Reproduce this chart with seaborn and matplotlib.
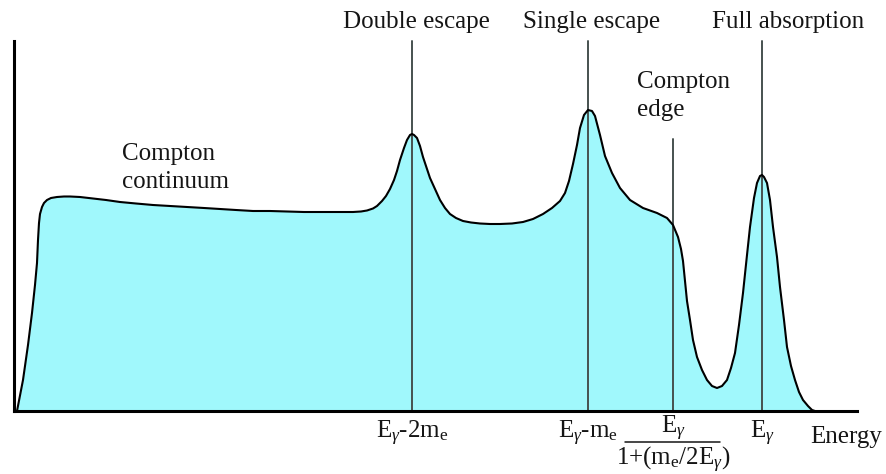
import matplotlib
matplotlib.use("Agg")
import matplotlib.pyplot as plt
from matplotlib.lines import Line2D
import seaborn as sns
import pandas as pd

# Schematic gamma-ray pulse-height spectrum (arbitrary units), in pieces
continuum_e = [3, 9, 14, 18, 21, 23, 24, 25, 26, 28,
               30, 33, 37, 43, 50, 56, 66, 79, 92, 106,
               122, 139, 156, 173, 190, 206, 222, 239, 256, 273,
               290, 306, 322, 339, 347]
continuum_c = [0, 31, 66, 98, 126, 148, 171, 188, 197, 204,
               208, 211, 213, 214, 214.5, 214.5, 214, 212.5, 211, 209,
               207.5, 206, 205, 204, 203, 202, 201, 200, 200, 199.5,
               199, 199, 199, 199, 199.5]

double_e = [353, 359, 363, 368, 372, 376, 380, 383, 386, 390,
            393, 396, 398, 400, 403, 406, 409, 412, 416, 421,
            426, 431, 436, 442, 449, 457, 466, 476, 486, 498,
            509, 519]
double_c = [200.5, 202.5, 205, 210, 215, 222, 231, 240, 251, 263,
            271, 276, 277, 276, 273, 265, 254, 245, 233, 222,
            211, 203, 197, 193, 190, 188.5, 187.5, 187, 187, 187.5,
            189, 192]

single_e = [529, 538, 546, 551, 555, 559, 563, 566, 570, 574,
            578, 581, 586, 591, 598, 606, 616, 629, 643, 653]
single_c = [197, 203, 210, 218, 230, 247, 266, 283, 296, 301,
            300, 295, 276, 255, 238, 223, 211, 203, 198, 193]

edge_e = [659, 664, 667, 669, 671, 673, 676, 679, 683, 688,
          693, 698, 703, 708, 713]
edge_c = [186, 174, 162, 150, 130, 110, 91, 71, 54, 41,
          31, 25, 23, 25, 31]

photo_e = [717, 721, 725, 729, 733, 736, 740, 743, 746, 748,
           750, 753, 756, 759, 763, 766, 770, 773, 777, 781,
           785, 789, 794, 798, 801]
photo_c = [43, 58, 86, 118, 156, 184, 213, 228, 235, 236,
           234, 228, 211, 184, 154, 124, 91, 64, 45, 31,
           19, 11, 5, 1, 0]

# Marked energies and their labels
marker_energy = [398, 574, 659, 748]
marker_top = [370, 370, 272, 370]
tick_labels = [r"E$_\gamma$-2m$_\mathrm{e}$", r"E$_\gamma$-m$_\mathrm{e}$", None, r"E$_\gamma$"]
peak_names = ["Double escape", "Single escape", None, "Full absorption"]

spectrum = pd.DataFrame({
    "energy": continuum_e + double_e + single_e + edge_e + photo_e,
    "counts": continuum_c + double_c + single_c + edge_c + photo_c,
})

sns.set_theme(style="white")
plt.rcParams["font.family"] = ["Liberation Serif", "DejaVu Serif"]
plt.rcParams["mathtext.fontset"] = "custom"
plt.rcParams["mathtext.rm"] = "Liberation Serif"
plt.rcParams["mathtext.it"] = "Liberation Serif:italic"

fig = plt.figure(figsize=(8.87, 4.74), dpi=100)
W, H = 887, 474
ax = fig.add_axes([14 / W, (H - 411) / H, (857 - 14) / W, (411 - 41) / H])
ax.set_xlim(0, 843)
ax.set_ylim(0, 370)

fill_color = "#a0f8fc"
line_gray = "#46514f"
text_color = "#151515"
fs = 18

ax.fill_between(spectrum["energy"], spectrum["counts"], color=fill_color, lw=0, zorder=1)
sns.lineplot(data=spectrum, x="energy", y="counts", sort=False, color="black",
             lw=1.5, ax=ax, zorder=3, solid_joinstyle="round", solid_capstyle="round")

for e, top in zip(marker_energy, marker_top):
    ax.plot([e, e], [0, top], color=line_gray, lw=1.4, zorder=2, clip_on=False)

# Axes: only left and bottom lines
for side in ["top", "right"]:
    ax.spines[side].set_visible(False)
for side in ["left", "bottom"]:
    ax.spines[side].set_color("black")
    ax.spines[side].set_linewidth(2.2)
ax.set_xticks([])
ax.set_yticks([])
ax.set_xlabel("")
ax.set_ylabel("")

# Peak names above the marker lines
name_x = [402, 578, None, 774]
for nx, name in zip(name_x, peak_names):
    if name:
        ax.text(nx, 389, name, ha="center", va="center", fontsize=fs, color=text_color, clip_on=False)

ax.text(623, 315, "Compton\nedge", ha="left", va="center", fontsize=fs, color=text_color,
        linespacing=1.35)
ax.text(108, 243, "Compton\ncontinuum", ha="left", va="center", fontsize=fs, color=text_color,
        linespacing=1.35)

# Energy labels under the axis
for e, lab in zip(marker_energy, tick_labels):
    if lab:
        ax.text(e, -22, lab, ha="center", va="center", fontsize=fs, color=text_color, clip_on=False)

# Compton edge energy as a fraction
ax.text(659, -17, r"E$_\gamma$", ha="center", va="center", fontsize=fs, color=text_color, clip_on=False)
ax.add_line(Line2D([611, 706], [-31, -31], color=text_color, lw=1.1, clip_on=False))
ax.text(659, -49, r"1+(m$_\mathrm{e}$/2E$_\gamma$)", ha="center", va="center", fontsize=fs,
        color=text_color, clip_on=False)

ax.text(796, -26, "Energy", ha="left", va="center", fontsize=fs, color=text_color, clip_on=False)

fig.savefig("out.png", dpi=100)
